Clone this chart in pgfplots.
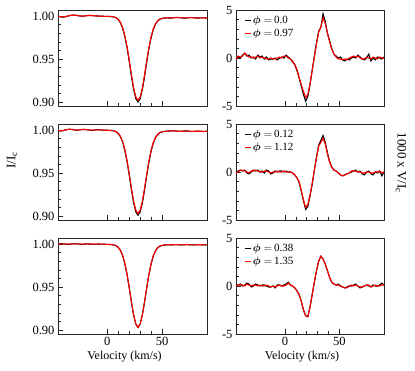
\documentclass[border=0pt]{standalone}
\usepackage{fontspec}
\setmainfont{Liberation Serif}
\usepackage{bm}
\usepackage{pgfplots}
\usepackage{pgfplotstable}
\pgfplotsset{compat=1.18}

% I/Ic profiles: black (b) and red (r) for the three rows
\pgfplotstableread{
x    b1     r1     b2     r2     b3     r3
-46  1.0000 0.9998 0.9996 0.9997 1.0000 1.0001
-44  0.9995 0.9996 0.9992 0.9993 1.0002 1.0002
-42  0.9990 0.9992 0.9990 0.9992 1.0004 1.0003
-40  0.9989 0.9991 0.9995 0.9996 1.0003 1.0003
-38  0.9993 0.9995 1.0003 1.0002 1.0000 1.0001
-36  1.0000 1.0001 1.0008 1.0007 0.9998 0.9999
-34  1.0007 1.0007 1.0010 1.0009 0.9999 0.9999
-32  1.0011 1.0010 1.0007 1.0008 1.0002 1.0002
-30  1.0012 1.0011 1.0002 1.0003 1.0004 1.0003
-28  1.0008 1.0008 0.9999 1.0000 1.0003 1.0003
-26  1.0003 1.0004 1.0001 1.0002 1.0000 1.0001
-24  1.0000 1.0001 1.0005 1.0005 0.9998 0.9999
-22  0.9999 1.0000 1.0008 1.0007 0.9999 0.9999
-20  1.0003 1.0003 1.0006 1.0006 1.0001 1.0001
-18  1.0007 1.0006 1.0003 1.0004 1.0002 1.0002
-16  1.0008 1.0007 1.0000 1.0001 1.0001 1.0001
-14  1.0006 1.0006 0.9998 0.9999 0.9999 1.0000
-12  1.0003 1.0004 1.0000 1.0000 0.9998 0.9998
-10  1.0002 1.0002 1.0003 1.0002 1.0000 1.0000
-8   1.0000 1.0001 1.0004 1.0003 1.0001 1.0001
-6   0.9999 0.9999 1.0002 1.0002 1.0000 1.0000
-4   0.9998 0.9998 0.9999 1.0000 0.9999 0.9999
-2   0.9997 0.9997 0.9998 0.9998 0.9998 0.9998
0    0.9997 0.9997 0.9998 0.9998 0.9997 0.9997
2    0.9996 0.9996 0.9997 0.9997 0.9996 0.9996
4    0.9994 0.9994 0.9995 0.9995 0.9994 0.9994
6    0.9990 0.9990 0.9991 0.9991 0.9990 0.9990
8    0.9980 0.9981 0.9981 0.9982 0.9981 0.9981
10   0.9959 0.9961 0.9960 0.9963 0.9962 0.9962
12   0.9921 0.9926 0.9923 0.9927 0.9926 0.9926
14   0.9859 0.9866 0.9861 0.9868 0.9867 0.9868
16   0.9762 0.9773 0.9764 0.9775 0.9774 0.9775
18   0.9633 0.9646 0.9635 0.9649 0.9649 0.9650
20   0.9473 0.9490 0.9478 0.9494 0.9493 0.9494
22   0.9301 0.9321 0.9306 0.9326 0.9326 0.9327
24   0.9147 0.9168 0.9154 0.9175 0.9176 0.9177
26   0.9041 0.9060 0.9048 0.9068 0.9069 0.9070
28   0.9000 0.9020 0.9008 0.9028 0.9030 0.9031
30   0.9039 0.9058 0.9046 0.9066 0.9068 0.9069
32   0.9143 0.9164 0.9151 0.9172 0.9175 0.9176
34   0.9295 0.9315 0.9302 0.9322 0.9325 0.9326
36   0.9465 0.9482 0.9472 0.9488 0.9492 0.9493
38   0.9623 0.9636 0.9628 0.9642 0.9646 0.9647
40   0.9750 0.9761 0.9755 0.9766 0.9771 0.9772
42   0.9845 0.9852 0.9851 0.9858 0.9863 0.9864
44   0.9906 0.9911 0.9912 0.9916 0.9922 0.9922
46   0.9943 0.9945 0.9949 0.9952 0.9958 0.9958
48   0.9964 0.9965 0.9970 0.9971 0.9976 0.9976
50   0.9973 0.9973 0.9980 0.9980 0.9985 0.9985
52   0.9977 0.9977 0.9985 0.9985 0.9989 0.9989
54   0.9979 0.9979 0.9987 0.9987 0.9991 0.9991
56   0.9978 0.9978 0.9989 0.9989 0.9992 0.9992
58   0.9978 0.9979 0.9991 0.9990 0.9991 0.9991
60   0.9980 0.9981 0.9992 0.9991 0.9993 0.9992
62   0.9983 0.9982 0.9990 0.9990 0.9994 0.9993
64   0.9984 0.9983 0.9987 0.9988 0.9993 0.9993
66   0.9982 0.9982 0.9985 0.9986 0.9991 0.9991
68   0.9979 0.9980 0.9986 0.9986 0.9990 0.9991
70   0.9977 0.9978 0.9989 0.9988 0.9992 0.9992
72   0.9978 0.9979 0.9990 0.9989 0.9994 0.9993
74   0.9981 0.9981 0.9988 0.9988 0.9993 0.9993
76   0.9983 0.9982 0.9985 0.9986 0.9991 0.9991
78   0.9982 0.9981 0.9984 0.9985 0.9990 0.9990
80   0.9979 0.9979 0.9986 0.9986 0.9991 0.9991
82   0.9977 0.9978 0.9988 0.9987 0.9993 0.9992
84   0.9978 0.9979 0.9987 0.9987 0.9994 0.9993
86   0.9980 0.9980 0.9985 0.9986 0.9992 0.9992
88   0.9979 0.9979 0.9984 0.9985 0.9990 0.9991
90   0.9977 0.9978 0.9986 0.9986 0.9991 0.9991
92   0.9977 0.9978 0.9986 0.9986 0.9991 0.9991
}\Itab

% 1000 x V/Ic profiles
\pgfplotstableread{
x    b1    r1    b2    r2    b3    r3
-47  -0.1  0.0   0.0   0.0   0.0   0.0
-45  -0.1  -0.1  -0.1  -0.1  0.1   0.0
-43  0.1   0.2   0.1   0.0   0.1   0.1
-41  0.0   0.1   0.2   0.2   0.2   0.1
-39  0.3   0.2   0.1   0.2   0.0   0.1
-37  0.5   0.5   0.2   0.1   0.1   0.0
-35  0.2   0.3   -0.1  0.0   0.3   0.2
-33  0.3   0.1   -0.2  -0.1  0.2   0.1
-31  0.0   0.1   0.0   0.1   -0.1  0.0
-29  0.1   0.0   0.2   0.1   0.0   0.1
-27  -0.1  0.1   0.1   0.2   0.2   0.1
-25  0.3   0.2   0.2   0.1   0.1   0.0
-23  0.1   0.0   0.0   0.0   0.0   0.1
-21  0.2   0.1   0.1   0.0   0.1   0.0
-19  -0.1  0.0   -0.1  0.1   0.1   0.0
-17  0.1   -0.1  0.2   0.1   0.0   0.1
-15  -0.2  -0.1  0.1   0.0   -0.1  0.0
-13  -0.1  0.0   -0.2  -0.1  -0.1  -0.1
-11  -0.1  -0.1  -0.1  0.0   0.0   0.0
-9   0.0   -0.1  0.1   0.0   -0.2  -0.1
-7   -0.2  0.0   0.0   0.1   0.1   0.0
-5   0.0   0.1   0.1   0.0   0.1   0.1
-3   0.1   0.0   0.1   0.0   0.0   0.0
-1   0.0   0.2   0.0   0.1   0.1   0.0
1    0.3   0.2   0.1   0.0   0.2   0.1
3    0.1   0.0   0.0   0.0   0.4   0.3
5    -0.1  -0.1  0.0   0.0   0.1   0.1
7    -0.4  -0.3  -0.1  -0.1  0.0   0.0
9    -0.7  -0.7  -0.3  -0.3  -0.2  -0.2
11   -1.3  -1.2  -0.6  -0.6  -0.5  -0.5
13   -2.1  -2.0  -1.1  -1.0  -0.9  -0.9
15   -2.9  -2.8  -2.0  -1.9  -1.6  -1.6
17   -3.8  -3.5  -3.0  -2.9  -2.5  -2.5
19   -4.5  -4.1  -3.9  -3.7  -3.1  -3.1
21   -4.0  -3.8  -3.6  -3.4  -3.2  -3.2
23   -2.8  -2.7  -2.5  -2.4  -2.2  -2.2
25   -1.3  -1.3  -1.3  -1.2  -0.9  -0.9
27   0.2   0.1   0.2   0.2   0.4   0.4
29   1.6   1.5   1.6   1.5   1.6   1.6
31   2.8   2.7   2.8   2.7   2.6   2.6
33   3.2   3.2   3.3   3.1   3.1   3.1
35   4.6   4.2   3.8   3.5   2.8   2.8
37   3.8   3.6   3.1   2.9   2.3   2.3
39   2.6   2.6   2.0   1.9   1.6   1.6
41   1.8   1.7   1.1   1.0   0.9   0.9
43   1.0   0.9   0.5   0.5   0.4   0.4
45   0.4   0.4   0.2   0.2   0.2   0.2
47   0.2   0.1   0.1   0.1   0.1   0.1
49   0.0   -0.1  -0.1  -0.1  0.2   0.1
51   0.1   -0.1  -0.3  -0.3  0.0   0.0
53   -0.2  -0.2  -0.4  -0.4  -0.1  -0.1
55   -0.3  -0.1  -0.3  -0.3  -0.2  -0.2
57   -0.1  -0.2  -0.2  -0.2  -0.1  -0.2
59   -0.2  0.0   -0.1  -0.1  0.0   0.0
61   0.0   0.1   0.0   0.1   0.0   0.1
63   0.1   0.2   0.1   0.1   0.1   0.0
65   0.0   0.1   0.2   0.1   0.2   0.1
67   0.3   0.2   0.0   0.0   0.0   0.0
69   0.1   0.0   0.1   0.0   -0.2  -0.1
71   -0.1  -0.1  -0.2  -0.1  -0.1  -0.1
73   -0.2  -0.1  -0.3  -0.1  0.0   0.0
75   0.0   0.1   0.0   0.0   0.1   0.1
77   0.4   0.0   0.1   0.0   0.0   0.1
79   -0.3  -0.1  -0.2  -0.1  -0.1  -0.1
81   0.0   0.1   -0.3  -0.1  0.1   0.0
83   -0.2  0.0   0.0   0.0   0.0   0.1
85   0.1   -0.1  -0.1  0.0   0.0   0.0
87   0.0   0.1   0.1   0.1   0.1   0.0
89   -0.1  0.0   -0.4  -0.1  0.3   0.1
91   0.1   0.0   0.0   0.0   0.1   0.1
93   0.0   0.0   0.0   0.0   0.0   0.0
}\Vtab

\pgfplotsset{
  panel/.style={
    anchor=north west, scale only axis,
    height=96pt,
    xmin=-45, xmax=91,
    xtick={0,50}, minor x tick num=4,
    xtick pos=lower, ytick pos=left,
    tick align=inside,
    major tick length=4.5pt, minor tick length=2.5pt,
    axis line style={black!85, line width=0.6pt},
    tick style={black!85, line width=0.5pt},
    tick label style={font=\fontsize{12.5}{14}\selectfont},
    label style={font=\fontsize{12}{14}\selectfont},
    xlabel style={xshift=-8pt, yshift=2pt},
    /pgf/number format/assume math mode=true,
    clip=true,
  },
  ipanel/.style={panel, width=149pt,
    ymin=0.8953, ymax=1.0071,
    ytick={0.90,0.95,1.00}, minor y tick num=4,
    yticklabel style={/pgf/number format/.cd, fixed, fixed zerofill, precision=2},
  },
  vpanel/.style={panel, width=148pt,
    ymin=-5, ymax=5,
    ytick={-5,0,5}, minor y tick num=4,
    legend style={at={(axis description cs:0.055,0.95)}, anchor=north west,
      draw=none, fill=none, inner sep=0pt, row sep=2pt,
      font=\fontsize{11}{12}\selectfont,
      nodes={inner sep=1pt}},
    legend cell align=left,
    legend image code/.code={\draw[#1, line width=1pt] (0pt,0pt) -- (6.5pt,0pt);},
  },
  noxlab/.style={xticklabels={}},
  bk/.style={black, line width=1.1pt},
  rd/.style={red, line width=1.1pt},
}

\begin{document}
\begin{tikzpicture}
\useasboundingbox (0,0) rectangle (415pt,-371pt);

% row 1
\begin{axis}[ipanel, noxlab, at={(58pt,-10pt)}]
\addplot[bk] table[x=x,y=b1]{\Itab};
\addplot[rd] table[x=x,y=r1]{\Itab};
\end{axis}
\begin{axis}[vpanel, noxlab, at={(236pt,-10pt)}]
\addplot[bk] table[x=x,y=b1]{\Vtab};
\addlegendentry{$\bm{\phi}=$\,0.0}
\addplot[rd] table[x=x,y=r1]{\Vtab};
\addlegendentry{$\bm{\phi}=$\,0.97}
\end{axis}

% row 2
\begin{axis}[ipanel, noxlab, at={(58pt,-124pt)}]
\addplot[bk] table[x=x,y=b2]{\Itab};
\addplot[rd] table[x=x,y=r2]{\Itab};
\end{axis}
\begin{axis}[vpanel, noxlab, at={(236pt,-124pt)}]
\addplot[bk] table[x=x,y=b2]{\Vtab};
\addlegendentry{$\bm{\phi}=$\,0.12}
\addplot[rd] table[x=x,y=r2]{\Vtab};
\addlegendentry{$\bm{\phi}=$\,1.12}
\end{axis}

% row 3
\begin{axis}[ipanel, at={(58pt,-238pt)}, xlabel={Velocity (km/s)}]
\addplot[bk] table[x=x,y=b3]{\Itab};
\addplot[rd] table[x=x,y=r3]{\Itab};
\end{axis}
\begin{axis}[vpanel, at={(236pt,-238pt)}, xlabel={Velocity (km/s)}]
\addplot[bk] table[x=x,y=b3]{\Vtab};
\addlegendentry{$\bm{\phi}=$\,0.38}
\addplot[rd] table[x=x,y=r3]{\Vtab};
\addlegendentry{$\bm{\phi}=$\,1.35}
\end{axis}

\node[rotate=90, font=\fontsize{13}{15}\selectfont] at (12pt,-160pt) {I/I$_\mathrm{c}$};
\node[rotate=-90, font=\fontsize{13}{15}\selectfont] at (401pt,-163pt) {1000 x V/I$_\mathrm{c}$};
\end{tikzpicture}
\end{document}
